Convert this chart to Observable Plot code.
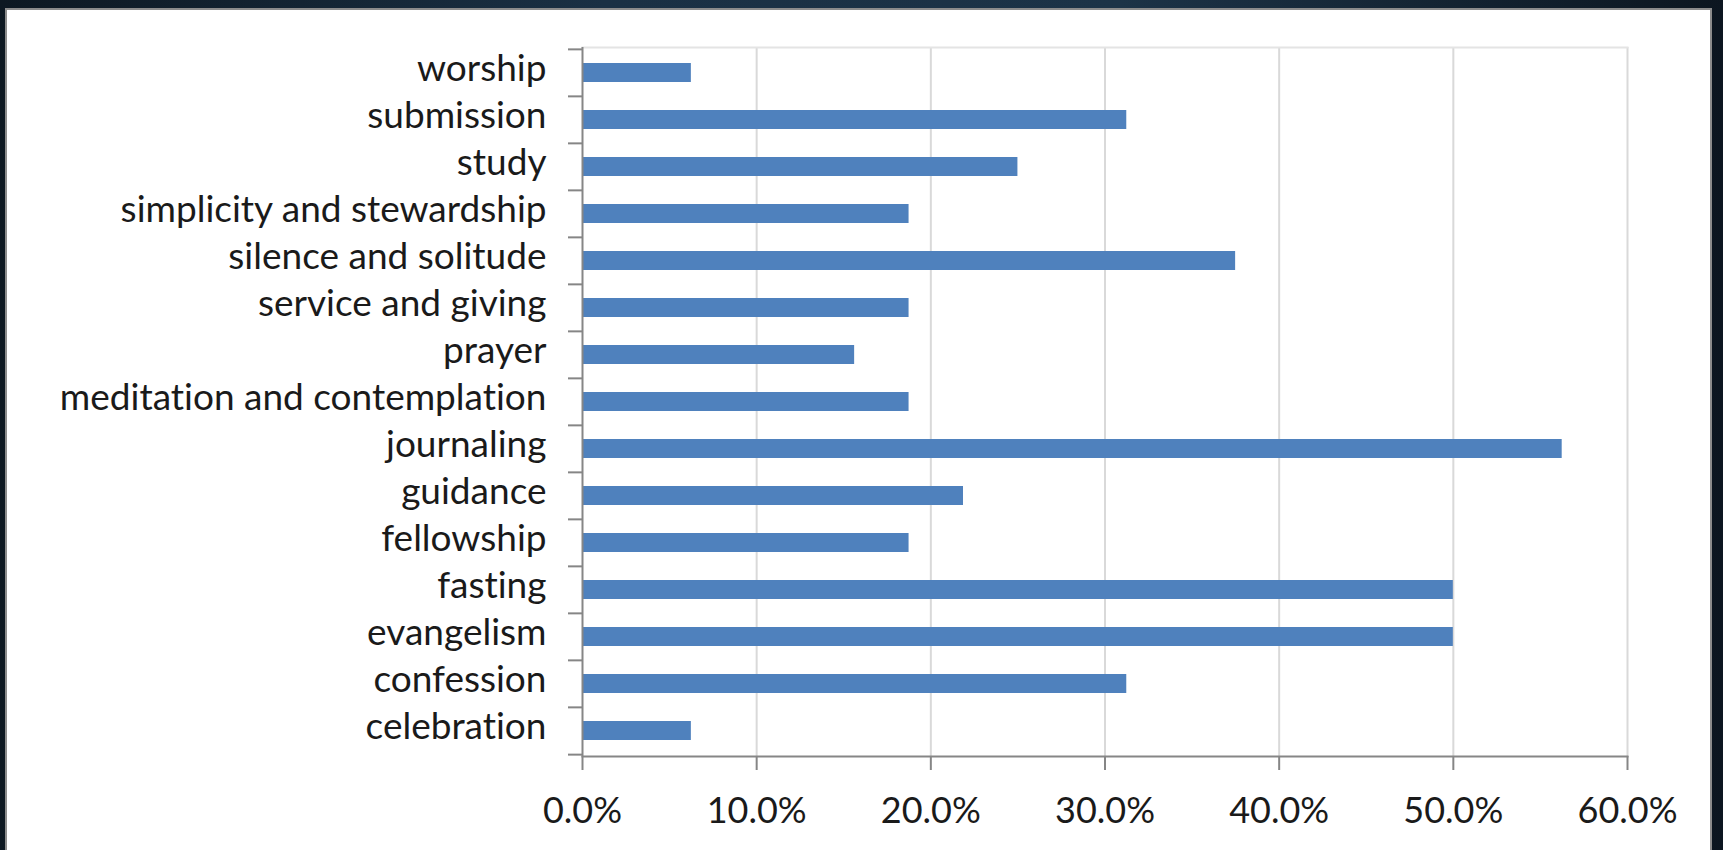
<!DOCTYPE html>
<html><head><meta charset="utf-8">
<script src="https://cdn.jsdelivr.net/npm/d3@7"></script>
<script src="https://cdn.jsdelivr.net/npm/@observablehq/plot@0.6"></script>
<style>
html,body{margin:0;padding:0;}
body{width:1723px;height:850px;overflow:hidden;position:relative;background:#0f1b27;}
#bg{position:absolute;left:0;top:0;width:1723px;height:850px;background:linear-gradient(90deg,#0d1822 0%,#1a3044 35%,#1c3347 65%,#0c1620 100%);}
#panel{position:absolute;left:5px;top:8px;width:1703px;height:850px;background:#fff;border:2px solid #8c8c8c;border-bottom:none;}
#chart{position:absolute;left:0;top:0;}
#chart svg text{font-variant-ligatures:none;font-feature-settings:"liga" 0, "clig" 0;}
</style></head><body>
<div id="bg"></div><div id="panel"></div><div id="chart"></div>
<script>
// categories, top to bottom as drawn
const categories = [
  "worship", "submission", "study", "simplicity and stewardship", "silence and solitude",
  "service and giving", "prayer", "meditation and contemplation", "journaling", "guidance",
  "fellowship", "fasting", "evangelism", "confession", "celebration"
];
const values = [
  0.0625, 0.3125, 0.25, 0.1875, 0.375,
  0.1875, 0.15625, 0.1875, 0.5625, 0.21875,
  0.1875, 0.5, 0.5, 0.3125, 0.0625
];
const xTicks = [0, 0.1, 0.2, 0.3, 0.4, 0.5, 0.6];
const gridTicks = [0.1, 0.2, 0.3, 0.4, 0.5, 0.6];

const data = categories.map((c, i) => ({category: c, value: values[i]}));
const W = 1723, H = 850, mL = 582, mR = 96, mT = 47, mB = 94;
const step = (H - mT - mB) / categories.length;
const axisGrey = "#868686";
const textCol = "#1a1a1a";

const chart = Plot.plot({
  width: W, height: H,
  marginLeft: mL, marginRight: mR, marginTop: mT, marginBottom: mB,
  style: {fontFamily: "Lato, 'Open Sans', sans-serif", fontSize: "37px", color: textCol, background: "transparent", overflow: "visible"},
  x: {domain: [0, 0.6], label: null},
  y: {domain: categories, paddingInner: 0.6, paddingOuter: 0.3, label: null},
  marks: [
    Plot.gridX(gridTicks, {stroke: "#d9d9d9", strokeOpacity: 1, strokeWidth: 2}),
    Plot.frame({anchor: "top", stroke: "#e4e4e4", strokeWidth: 2}),
    Plot.barX(data, {x: "value", y: "category", fill: "#4f81bd"}),
    Plot.axisY({tickSize: 0, tickPadding: 36, fontSize: 37, dy: -4, fill: textCol}),
    Plot.axisY({tickSize: 14, tickFormat: () => "", dy: -step / 2, stroke: axisGrey, strokeWidth: 2}),
    Plot.axisY([categories[categories.length - 1]], {tickSize: 14, tickFormat: () => "", dy: step / 2, stroke: axisGrey, strokeWidth: 2}),
    Plot.axisX(xTicks, {tickSize: 14, tickFormat: () => "", stroke: axisGrey, strokeWidth: 2}),
    Plot.axisX(xTicks, {tickSize: 0, tickPadding: 41, tickFormat: ".1%", fontSize: 36, fill: textCol}),
    Plot.ruleX([0], {stroke: axisGrey, strokeWidth: 2}),
    Plot.frame({anchor: "bottom", stroke: axisGrey, strokeWidth: 2})
  ]
});
document.getElementById("chart").appendChild(chart);
</script>
</body></html>
